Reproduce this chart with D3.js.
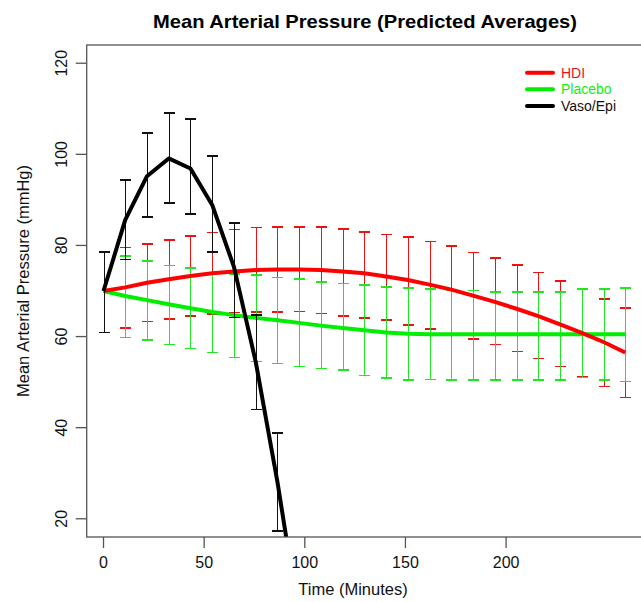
<!DOCTYPE html>
<html>
<head>
<meta charset="utf-8">
<script src="https://cdn.jsdelivr.net/npm/d3@7"></script>
<style>
  html, body { margin: 0; padding: 0; background: #fff; }
  svg { display: block; font-family: "Liberation Sans", Arial, sans-serif; }
</style>
</head>
<body>
<svg id="chart" width="641" height="602"></svg>
<script>
// Measurement times (minutes)
const times = [0, 10.8, 21.6, 32.4, 43.2, 54, 64.8, 75.6, 86.4, 97.2, 108, 118.8, 129.6,
               140.4, 151.2, 162, 172.8, 183.6, 194.4, 205.2, 216, 226.8, 237.6, 248.4, 259.2];

// HDI: predicted mean and interval limits
const hdiMean  = [70.0, 70.8, 71.8, 72.6, 73.3, 73.9, 74.3, 74.6, 74.7, 74.7, 74.6, 74.3, 73.9,
                  73.2, 72.4, 71.4, 70.3, 69.0, 67.6, 66.1, 64.5, 62.7, 60.8, 58.8, 56.5];
const hdiUpper = [null, 79.5, 80.3, 81.2, 82.1, 82.8, 83.5, 83.9, 84.0, 84.0, 84.0, 83.6, 83.0,
                  82.4, 81.8, 80.9, 79.9, 78.5, 77.2, 75.7, 74.1, 72.2, 70.4, 68.2, 66.3];
const hdiLower = [null, 61.9, 63.3, 63.8, 64.5, 64.9, 65.3, 65.4, 65.4, 65.5, 65.1, 64.5, 64.1,
                  63.6, 62.5, 61.7, 60.6, 59.5, 58.3, 56.7, 55.2, 53.4, 51.2, 49.0, 46.6];

// Placebo: predicted mean and interval limits
const placeboMean  = [70.0, 68.9, 68.0, 67.1, 66.2, 65.4, 64.7, 64.1, 63.6, 63.0, 62.4, 61.9, 61.4,
                      60.9, 60.6, 60.5, 60.5, 60.5, 60.5, 60.5, 60.5, 60.5, 60.5, 60.5, 60.5];
const placeboUpper = [null, 77.7, 76.6, 75.6, 75.0, 74.1, 73.7, 73.5, 73.0, 72.6, 72.0, 71.7, 71.3,
                      70.9, 70.7, 70.4, 70.1, 70.1, 69.8, 69.8, 69.8, 69.8, 70.4, 70.4, 70.7];
const placeboLower = [null, 59.8, 59.2, 58.3, 57.4, 56.5, 55.4, 54.5, 54.1, 53.4, 53.0, 52.7, 51.5,
                      50.9, 50.5, 50.6, 50.5, 50.5, 50.5, 50.5, 50.5, 50.5, 51.0, 50.5, 50.1];

// Vaso/Epi: predicted mean and interval limits (later values fall below the axis)
const vasoMean  = [70.0, 85.6, 95.2, 99.1, 96.9, 88.9, 75.3, 54.5, 28.1, -2.0];
const vasoUpper = [78.5, 94.4, 104.6, 109.1, 107.7, 99.6, 85.0, 64.7, 38.8, 8.0];
const vasoLower = [60.9, 76.9, 86.3, 89.4, 86.9, 78.5, 64.2, 44.0, 17.4, -12.0];

const xTicks = [0, 50, 100, 150, 200];
const yTicks = [20, 40, 60, 80, 100, 120];

const seriesNames = ["HDI", "Placebo", "Vaso/Epi"];
const seriesColors = ["#ff0000", "#00ee00", "#000000"];

const svg = d3.select("#chart");

// plot region
const box = { left: 86.7, top: 45, bottom: 537, right: 647 };

const x = d3.scaleLinear().domain([-8.35, 270]).range([box.left, box.right]);
const y = d3.scaleLinear().domain([16, 124]).range([box.bottom, box.top]);

// snap thin vertical strokes to the pixel grid
const xs = t => Math.round(x(t)) + 0.5;

svg.append("defs").append("clipPath").attr("id", "plotclip")
  .append("rect")
  .attr("x", box.left).attr("y", box.top)
  .attr("width", box.right - box.left).attr("height", box.bottom - box.top);

const plot = svg.append("g").attr("clip-path", "url(#plotclip)");

function errorBars(g, upper, lower, color, width, capHalf) {
  const rows = times.slice(0, upper.length).map((t, i) => ({ t, hi: upper[i], lo: lower[i] }))
    .filter(d => d.hi != null && d.lo != null);
  const eg = g.append("g").attr("stroke", color).attr("stroke-width", width)
    .attr("fill", "none").attr("shape-rendering", "crispEdges");
  eg.selectAll("line.v").data(rows).join("line").attr("class", "v")
    .attr("x1", d => xs(d.t)).attr("x2", d => xs(d.t))
    .attr("y1", d => y(d.hi)).attr("y2", d => y(d.lo));
  eg.selectAll("line.hi").data(rows).join("line").attr("class", "hi")
    .attr("x1", d => xs(d.t) - capHalf).attr("x2", d => xs(d.t) + capHalf)
    .attr("y1", d => y(d.hi)).attr("y2", d => y(d.hi));
  eg.selectAll("line.lo").data(rows).join("line").attr("class", "lo")
    .attr("x1", d => xs(d.t) - capHalf).attr("x2", d => xs(d.t) + capHalf)
    .attr("y1", d => y(d.lo)).attr("y2", d => y(d.lo));
}

function meanLine(g, values, color) {
  const line = d3.line().x((d, i) => x(times[i])).y(d => y(d));
  g.append("path").datum(values)
    .attr("d", line)
    .attr("fill", "none")
    .attr("stroke", color)
    .attr("stroke-width", 4)
    .attr("stroke-linejoin", "round");
}

errorBars(plot, hdiUpper, hdiLower, "#ee1111", 1.5, 5.5);
errorBars(plot, placeboUpper, placeboLower, "#22e622", 1.5, 5.5);
meanLine(plot, placeboMean, seriesColors[1]);
meanLine(plot, hdiMean, seriesColors[0]);
errorBars(plot, vasoUpper, vasoLower, "#111111", 1.8, 5.5);
meanLine(plot, vasoMean, seriesColors[2]);

// frame
svg.append("rect")
  .attr("x", box.left).attr("y", box.top)
  .attr("width", box.right - box.left).attr("height", box.bottom - box.top)
  .attr("fill", "none").attr("stroke", "#555").attr("stroke-width", 1.3);

// x axis ticks and labels
const xa = svg.append("g");
xa.selectAll("line").data(xTicks).join("line")
  .attr("x1", d => x(d)).attr("x2", d => x(d))
  .attr("y1", box.bottom).attr("y2", box.bottom + 11)
  .attr("stroke", "#555").attr("stroke-width", 1.3);
xa.selectAll("text").data(xTicks).join("text")
  .attr("x", d => x(d)).attr("y", 568)
  .attr("text-anchor", "middle").attr("font-size", 16).attr("fill", "#111")
  .text(d => d);

// y axis ticks and labels (rotated)
const ya = svg.append("g");
ya.selectAll("line").data(yTicks).join("line")
  .attr("x1", box.left - 11).attr("x2", box.left)
  .attr("y1", d => y(d)).attr("y2", d => y(d))
  .attr("stroke", "#555").attr("stroke-width", 1.3);
ya.selectAll("text").data(yTicks).join("text")
  .attr("transform", d => `translate(67,${y(d)}) rotate(-90)`)
  .attr("text-anchor", "middle").attr("font-size", 16).attr("fill", "#111")
  .text(d => d);

// titles
svg.append("text")
  .attr("x", 365).attr("y", 28)
  .attr("text-anchor", "middle").attr("font-size", 18.5).attr("font-weight", "bold").attr("fill", "#000")
  .attr("textLength", 424).attr("lengthAdjust", "spacingAndGlyphs")
  .text("Mean Arterial Pressure (Predicted Averages)");

svg.append("text")
  .attr("x", 353).attr("y", 595)
  .attr("text-anchor", "middle").attr("font-size", 16.5).attr("fill", "#111")
  .text("Time (Minutes)");

svg.append("text")
  .attr("transform", "translate(29,281) rotate(-90)")
  .attr("text-anchor", "middle").attr("font-size", 16.5).attr("fill", "#111")
  .text("Mean Arterial Pressure (mmHg)");

// legend
const legend = svg.append("g");
const legendY = [72.7, 89.3, 106];
seriesNames.forEach((name, i) => {
  legend.append("line")
    .attr("x1", 527).attr("x2", 553)
    .attr("y1", legendY[i]).attr("y2", legendY[i])
    .attr("stroke", seriesColors[i]).attr("stroke-width", 4).attr("stroke-linecap", "round");
  legend.append("text")
    .attr("x", 561).attr("y", legendY[i] + 5)
    .attr("font-size", 14)
    .attr("fill", i === 2 ? "#111" : (i === 0 ? "#e8141b" : "#11ee11"))
    .text(name);
});
</script>
</body>
</html>
